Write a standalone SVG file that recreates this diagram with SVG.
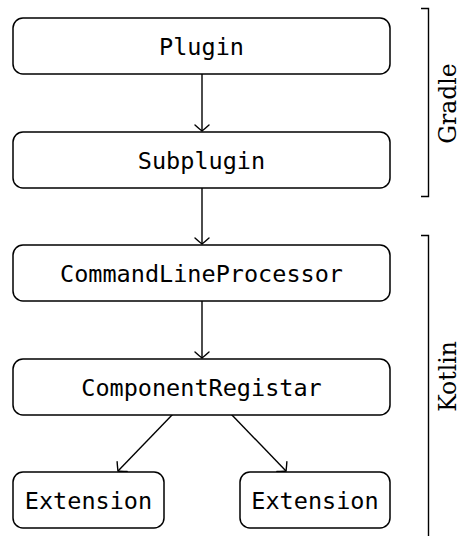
<svg xmlns="http://www.w3.org/2000/svg" width="462" height="536" viewBox="0 0 462 536">
<defs>
<style>
.box{fill:#fff;stroke:#000;stroke-width:1.5}
.lbl{font-family:"DejaVu Sans Mono","Liberation Mono",monospace;font-size:23.5px;text-anchor:middle;fill:#000}
.edge{stroke:#000;stroke-width:1.4;fill:none}
.side{font-family:"DejaVu Serif","Liberation Serif",serif;font-size:23.5px;text-anchor:middle;fill:#000}
</style>
<marker id="to" markerUnits="userSpaceOnUse" markerWidth="20" markerHeight="20" refX="10" refY="10" orient="auto" viewBox="0 0 20 20">
<path d="M4,3 Q8.5,8 10,10 Q8.5,12 4,17" fill="none" stroke="#000" stroke-width="1.4" stroke-linecap="round"/>
</marker>
</defs>
<g id="connectors">
<line class="edge" x1="202" y1="74" x2="202" y2="131" marker-end="url(#to)"/>
<line class="edge" x1="202" y1="188" x2="202" y2="244" marker-end="url(#to)"/>
<line class="edge" x1="202" y1="301" x2="202" y2="358" marker-end="url(#to)"/>
<line class="edge" x1="173" y1="414" x2="118" y2="471" marker-end="url(#to)"/>
<line class="edge" x1="231" y1="414" x2="286" y2="471" marker-end="url(#to)"/>
</g>
<g id="plugin"><rect class="box" x="13" y="18" width="377" height="56" rx="10"/><text class="lbl" x="201.5" y="54.5">Plugin</text></g>
<g id="subplugin"><rect class="box" x="13" y="132" width="377" height="56" rx="10"/><text class="lbl" x="201.5" y="168.5">Subplugin</text></g>
<g id="clp"><rect class="box" x="13" y="245" width="377" height="56" rx="10"/><text class="lbl" x="201.5" y="281.5">CommandLineProcessor</text></g>
<g id="registar"><rect class="box" x="13" y="359" width="377" height="56" rx="10"/><text class="lbl" x="201.5" y="395.5">ComponentRegistar</text></g>
<g id="ext1"><rect class="box" x="13" y="472" width="151" height="56" rx="10"/><text class="lbl" x="88.5" y="508.5">Extension</text></g>
<g id="ext2"><rect class="box" x="240" y="472" width="150" height="56" rx="10"/><text class="lbl" x="315" y="508.5">Extension</text></g>
<g id="gradle-group">
<path class="edge" d="M421,8.5 H428.5 V196.5 H421" stroke-width="1.5"/>
<text class="side" transform="translate(456,103.5) rotate(-90)">Gradle</text>
</g>
<g id="kotlin-group">
<path class="edge" d="M421,235.5 H428.5 V540" stroke-width="1.5"/>
<text class="side" transform="translate(456,376.5) rotate(-90)">Kotlin</text>
</g>
</svg>
